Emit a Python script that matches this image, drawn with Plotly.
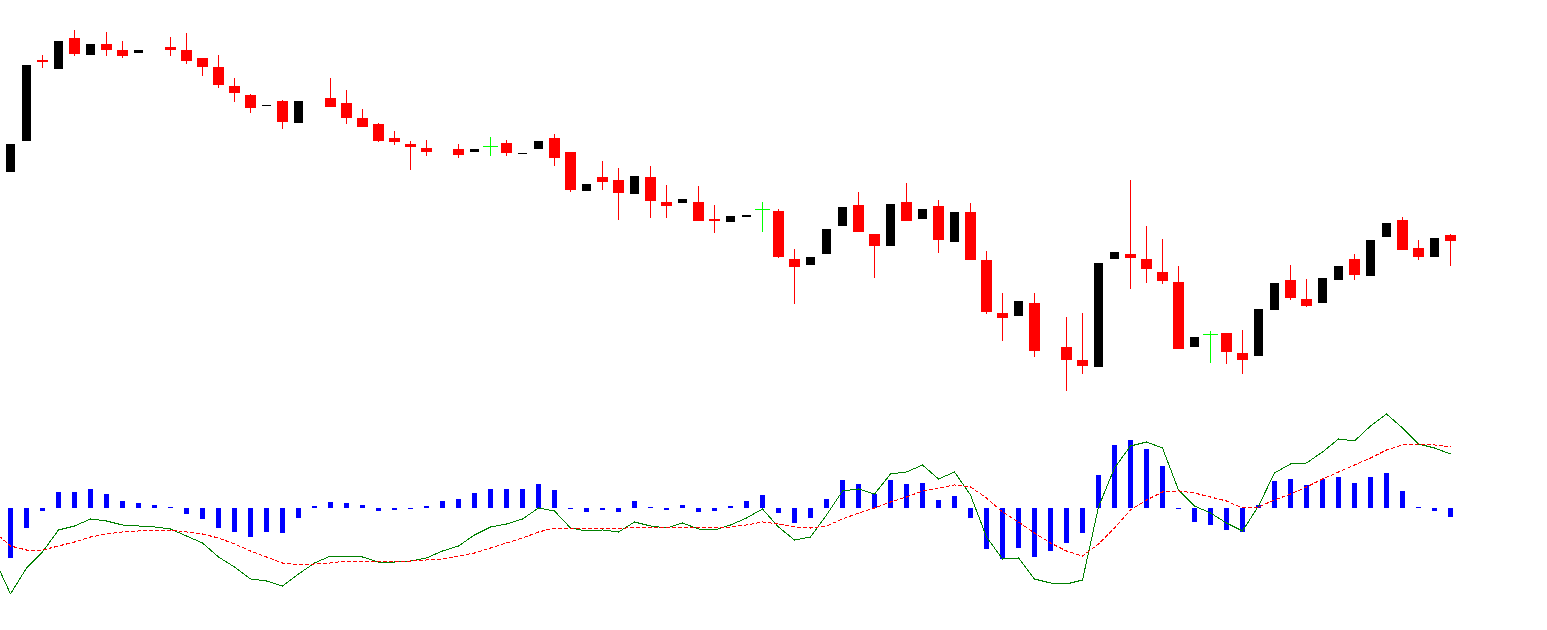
import plotly.graph_objects as go

# ---------------- data ----------------
slots = list(range(91))
open_ = [328, 359, 440, 431, 462, 445, 456, 450, 447, None,
         453, 450, 442, 433, 414, 405, 394, 399, 377, None,
         402, 397, 382, 376, 362, 356, 352, None, 351, 348,
         354, 357, 346, 351, 362, 348, 309, 323, 320, 306,
         323, 298, 297, 298, 281, 278, 283, 291, 289, 241,
         235, 246, 274, 295, 266, 254, 298, 281, 294, 258,
         288, 240, 187, 184, 197, None, 153, 140, 133, 241,
         246, 241, 228, 218, 153, 166, 167, 147, 144, 190,
         220, 201, 197, 220, 241, 224, 263, 280, 252, 243, 265]
close = [356, 435, 438, 459, 446, 456, 450, 444, 450, None,
         450, 439, 433, 415, 407, 392, 395, 378, 399, None,
         393, 382, 373, 359, 358, 353, 348, None, 345, 351,
         354, 347, 347, 359, 342, 310, 316, 318, 307, 324,
         299, 294, 301, 279, 279, 284, 285, 291, 243, 233,
         243, 271, 293, 268, 254, 296, 279, 291, 260, 288,
         240, 188, 182, 199, 149, None, 140, 134, 237, 248,
         242, 231, 219, 151, 163, 166, 148, 140, 191, 217,
         202, 194, 222, 234, 225, 260, 277, 250, 243, 262, 259]
high = [356, 435, 445, 459, 470, 456, 468, 459, 450, None,
        463, 467, 442, 445, 422, 406, 395, 400, 399, None,
        422, 410, 391, 377, 369, 359, 360, None, 356, 351,
        363, 360, 347, 359, 366, 348, 316, 339, 332, 324,
        334, 315, 301, 314, 295, 284, 285, 298, 291, 251,
        243, 271, 293, 308, 266, 296, 317, 291, 300, 288,
        297, 249, 207, 199, 207, None, 183, 187, 237, 248,
        320, 274, 261, 234, 163, 169, 167, 170, 191, 217,
        235, 221, 222, 234, 246, 260, 277, 283, 260, 262, 266]
low = [328, 359, 432, 431, 444, 445, 444, 442, 447, None,
       444, 436, 424, 412, 398, 387, 394, 371, 377, None,
       393, 376, 373, 358, 355, 330, 344, None, 342, 348,
       344, 344, 346, 351, 334, 308, 309, 310, 280, 306,
       282, 282, 297, 279, 267, 278, 283, 268, 242, 196,
       235, 246, 274, 268, 222, 254, 279, 281, 247, 258,
       240, 186, 159, 184, 143, None, 109, 126, 133, 241,
       211, 217, 216, 151, 153, 137, 136, 126, 144, 190,
       200, 193, 197, 220, 220, 224, 263, 250, 240, 243, 234]

line_slots = list(range(-1, 91))
macd = [-51, -86, -60, -44, -22, -18, -11, -13, -17, -18, -19,
        -21, -28, -35, -49, -59, -71, -73, -78, -66, -55,
        -48, -48, -49, -54, -54, -53, -50, -43, -38, -27,
        -19, -16, -11, 0, -3, -20, -23, -22, -24, -14,
        -18, -20, -15, -21, -22, -17, -10, -1, -19, -32,
        -29, -7, 17, 19, 14, 34, 36, 43, 29, 36,
        13, -29, -51, -50, -71, -75, -76, -72, 1, 40,
        62, 66, 60, 18, 2, -5, -15, -23, 2, 35,
        44, 45, 56, 69, 67, 82, 94, 80, 64, 60, 54]
signal = [-24, -38, -42, -42, -38, -34, -29, -26, -24, -23, -22,
          -22, -24, -26, -30, -36, -43, -49, -55, -57, -56,
          -55, -53, -53, -53, -53, -53, -52, -51, -48, -45,
          -40, -35, -30, -24, -20, -20, -20, -20, -21, -19,
          -19, -19, -19, -19, -20, -19, -17, -14, -16, -19,
          -20, -18, -11, -5, 0, 6, 11, 17, 20, 23,
          21, 10, -4, -14, -25, -35, -43, -48, -36, -20,
          -2, 8, 16, 17, 15, 11, 7, 0, 1, 8,
          14, 21, 29, 36, 43, 50, 58, 63, 64, 63, 61]
hist = [-50, -20, -3, 16, 16, 19, 14, 7, 5, 3,
        1, -6, -11, -20, -24, -29, -24, -25, -10, 2,
        6, 5, 3, -3, -2, -1, 2, 7, 9, 15,
        19, 19, 19, 24, 18, -1, -4, -2, -4, 7,
        1, -2, 3, -4, -3, 2, 7, 13, -5, -15,
        -10, 9, 28, 24, 14, 28, 24, 25, 8, 12,
        -10, -41, -51, -40, -49, -43, -35, -25, 33, 63,
        68, 59, 42, -1, -14, -17, -22, -24, 3, 27,
        29, 23, 29, 31, 25, 31, 35, 17, 1, -3, -9]

# ---------------- styling ----------------
UP = "#000000"
DOWN = "#FF0000"
DOJI = "#00FF00"
W, H = 1547, 630
SLOT_PX = 16.0

fig = go.Figure()

up_i = [i for i in slots if open_[i] is not None and close[i] > open_[i]]
dn_i = [i for i in slots if open_[i] is not None and close[i] < open_[i]]
dj_i = [i for i in slots if open_[i] is not None and close[i] == open_[i]]


def wick_xy(idx):
    xs, ys = [], []
    for i in idx:
        xs += [i, i, None]
        ys += [low[i], high[i], None]
    return xs, ys


wx, wy = wick_xy(dn_i)
fig.add_trace(go.Scatter(x=wx, y=wy, mode="lines", line=dict(color=DOWN, width=1),
                         hoverinfo="skip", showlegend=False))
wx, wy = wick_xy(dj_i)
fig.add_trace(go.Scatter(x=wx, y=wy, mode="lines", line=dict(color=DOJI, width=1),
                         hoverinfo="skip", showlegend=False))

fig.add_trace(go.Bar(x=up_i, y=[close[i] - open_[i] for i in up_i],
                     base=[open_[i] for i in up_i], width=9 / SLOT_PX,
                     marker=dict(color=UP, line=dict(width=0)), showlegend=False))
fig.add_trace(go.Bar(x=dn_i, y=[open_[i] - close[i] for i in dn_i],
                     base=[close[i] for i in dn_i], width=11 / SLOT_PX,
                     marker=dict(color=DOWN, line=dict(width=0)), showlegend=False))
fig.add_trace(go.Scatter(x=dj_i, y=[open_[i] for i in dj_i], mode="markers",
                         marker=dict(symbol="line-ew", size=11,
                                     line=dict(color=DOJI, width=1)),
                         showlegend=False))

# MACD panel
fig.add_trace(go.Bar(x=slots, y=hist, width=5 / SLOT_PX, yaxis="y2",
                     marker=dict(color="#0000FF", line=dict(width=0)), showlegend=False))
fig.add_trace(go.Scatter(x=line_slots, y=macd, yaxis="y2", mode="lines",
                         line=dict(color="#008000", width=1), showlegend=False))
fig.add_trace(go.Scatter(x=line_slots, y=signal, yaxis="y2", mode="lines",
                         line=dict(color="#FF0000", width=1, dash="4px,2px"),
                         showlegend=False))

x0 = -10.5 / SLOT_PX
x1 = (W - 10.5) / SLOT_PX
split = 230 / H

fig.update_layout(
    width=W, height=H,
    margin=dict(l=0, r=0, t=0, b=0),
    paper_bgcolor="white", plot_bgcolor="white",
    barmode="overlay", bargap=0,
    xaxis=dict(range=[x0, x1], visible=False, showgrid=False, zeroline=False),
    yaxis=dict(domain=[split, 1], range=[100, 500], visible=False,
               showgrid=False, zeroline=False),
    yaxis2=dict(domain=[0, split], range=[-122, 108], visible=False,
                showgrid=False, zeroline=False, anchor="x"),
    showlegend=False,
)

post = """
document.body.style.margin='0';
var gd = document.getElementById('{plot_id}');
function crisp(){
  gd.querySelectorAll('.scatterlayer path.js-line, .scatterlayer path.point, .barlayer path')
    .forEach(function(p){ p.style.shapeRendering = 'crispEdges'; });
}
crisp();
gd.on('plotly_afterplot', crisp);
"""

fig.write_html("out.html", post_script=post, config={"displayModeBar": False})
